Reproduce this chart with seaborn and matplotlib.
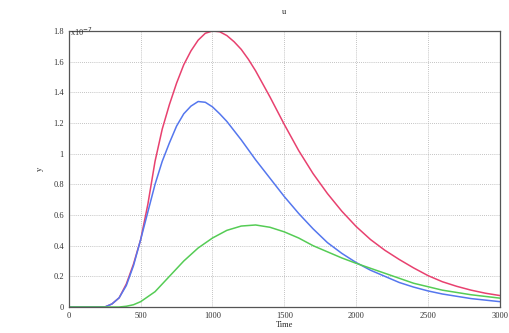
import numpy as np
import pandas as pd
import matplotlib
matplotlib.use("Agg")
import matplotlib.pyplot as plt
import seaborn as sns

# values in units of 1e-7
red_t = [0, 250, 300, 350, 400, 450, 500, 550, 600, 650, 700, 750, 800, 850, 900, 950, 1000, 1050, 1100, 1150, 1200, 1250,
         1300, 1400, 1500, 1600, 1700, 1800, 1900, 2000, 2100, 2200, 2300, 2400, 2500, 2600, 2700, 2800, 2900, 3000]
red_v = [0, 0, 0.02, 0.06, 0.15, 0.28, 0.44, 0.67, 0.95, 1.16, 1.32, 1.46, 1.58, 1.67, 1.74, 1.785, 1.80, 1.795, 1.77, 1.73, 1.68, 1.615,
         1.54, 1.37, 1.19, 1.02, 0.87, 0.74, 0.625, 0.525, 0.44, 0.37, 0.31, 0.255, 0.205, 0.165, 0.135, 0.11, 0.09, 0.075]
blue_t = [0, 250, 300, 350, 400, 450, 500, 550, 600, 650, 700, 750, 800, 850, 900, 950, 1000, 1050, 1100, 1200, 1300, 1400, 1500,
          1600, 1700, 1800, 1900, 2000, 2100, 2200, 2300, 2400, 2500, 2600, 2800, 3000]
blue_v = [0, 0, 0.02, 0.06, 0.14, 0.27, 0.44, 0.62, 0.80, 0.95, 1.07, 1.18, 1.26, 1.31, 1.34, 1.335, 1.305, 1.26, 1.21, 1.09, 0.96, 0.84, 0.72,
          0.61, 0.51, 0.42, 0.35, 0.29, 0.24, 0.20, 0.16, 0.13, 0.105, 0.085, 0.055, 0.035]
green_t = [0, 350, 400, 450, 500, 600, 700, 800, 900, 1000, 1100, 1200, 1300, 1400, 1500, 1600, 1700, 1800, 1900, 2000, 2200, 2400,
           2600, 2800, 3000]
green_v = [0, 0, 0.005, 0.015, 0.035, 0.10, 0.20, 0.30, 0.385, 0.45, 0.50, 0.528, 0.535, 0.52, 0.49, 0.45, 0.40, 0.36, 0.32, 0.285, 0.22, 0.155,
           0.11, 0.08, 0.058]

x_ticks = [0, 500, 1000, 1500, 2000, 2500, 3000]
y_ticks = [0, 0.2, 0.4, 0.6, 0.8, 1, 1.2, 1.4, 1.6, 1.8]
y_labels = ["0", "0.2", "0.4", "0.6", "0.8", "1", "1.2", "1.4", "1.6", "1.8"]

df = pd.concat([
    pd.DataFrame({"Time": red_t, "y": red_v, "s": "red"}),
    pd.DataFrame({"Time": blue_t, "y": blue_v, "s": "blue"}),
    pd.DataFrame({"Time": green_t, "y": green_v, "s": "green"}),
])

sns.set_style("white")
plt.rcParams["font.family"] = ["Liberation Serif", "DejaVu Serif"]

fig = plt.figure(figsize=(5.1, 3.33), dpi=100)
ax = fig.add_axes([0.135, 0.078, 0.845, 0.829])

palette = {"red": "#e8416f", "blue": "#5577ee", "green": "#55cc55"}
sns.lineplot(data=df, x="Time", y="y", hue="s", palette=palette, ax=ax, legend=False, lw=1.1, sort=False)

ax.set_xlim(0, 3000)
ax.set_ylim(0, 1.8)
ax.set_xticks(x_ticks)
ax.set_yticks(y_ticks)
ax.set_yticklabels(y_labels)
ax.tick_params(labelsize=6, direction="in", length=3, color="#444444", colors="#333333")
ax.grid(True, color="#b0b0b0", linestyle=(0, (1, 1.5)), lw=0.6)
for sp in ax.spines.values():
    sp.set_visible(True)
    sp.set_color("#555555")
    sp.set_linewidth(0.9)
ax.set_xlabel("Time", fontsize=6, labelpad=1)
ax.set_ylabel("y", fontsize=6, labelpad=7)
ax.set_title("u", fontsize=6, pad=12)
ax.text(0.003, 0.997, "x10$^{-7}$", transform=ax.transAxes, fontsize=6, ha="left", va="center", color="#333333")

fig.savefig("out.png", dpi=100)
